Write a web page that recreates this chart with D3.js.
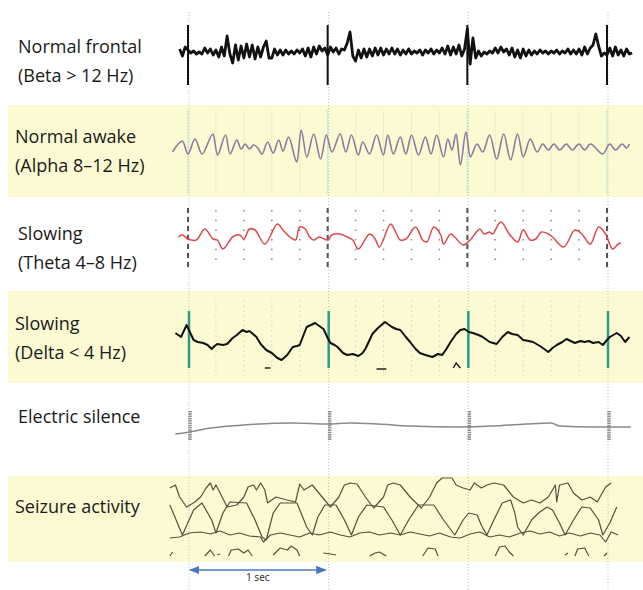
<!DOCTYPE html>
<html>
<head>
<meta charset="utf-8">
<script src="https://cdn.jsdelivr.net/npm/d3@7"></script>
<style>
  body { margin: 0; background: #fff; }
  svg { display: block; }
  .label { font-family: "Open Sans", sans-serif; font-size: 18px; fill: #1a1a1a; }
</style>
</head>
<body>
<div id="chart"></div>
<script>
// Chart values (time in seconds, value = deflection)
var secondMarks = [0, 1, 2, 3];
var minorTicks = [0.2, 0.4, 0.6, 0.8, 1.2, 1.4, 1.6, 1.8, 2.2, 2.4, 2.6, 2.8];

var rowLabels = [
  ["Normal frontal", "(Beta > 12 Hz)"],
  ["Normal awake", "(Alpha 8–12 Hz)"],
  ["Slowing", "(Theta 4–8 Hz)"],
  ["Slowing", "(Delta < 4 Hz)"],
  ["Electric silence"],
  ["Seizure activity"]
];

// beta: one value every 0.02 s starting at -0.06 s
var betaStart = -0.06, betaStep = 0.02;
var betaValues = [
  3, -4, 5,
  2, -1, 1, -2, 0, -2, 4, -1, 3, -3,
  2, -5, 5, -4, 16, -2, -11, 7, -8, 6,
  -6, 8, -5, 7, -7, 5, -5, 5, 11, -6,
  -6, 3, -3, 2, -3, 2, -2, 1, -2, 2,
  -1, 3, -4, 4, -5, 5, -2, 6, 1, 4,
  -3, 5, 0, 4, -2, 3, 2, 9, 20, -4,
  -9, 2, -6, 3, -5, 3, -4, 4, -3, 4,
  -3, 3, -2, 4, -2, 3, -3, 2, -2, 3,
  -2, 1, -1, 2, -3, 2, -1, 3, -2, 2,
  -1, 4, -2, 6, -3, 5, -2, 7, -4, 3,
  23, -12, 14, -6, 1, -4, 0, -2, 1, -1,
  4, -1, 5, 0, 3, -3, 4, -5, 2, -6,
  3, -4, 2, -3, 1, -2, 2, -1, 1, -2,
  1, -1, 2, -2, 1, -1, 3, -2, 2, -2,
  3, -3, 5, -2, 4, 7, 18, 6, -4, -1,
  -3, 4, -4, 5, -3, 2, -4, 3, -2, -1
];

var alphaPoints = [
  [-0.11, -5], [-0.04, 6], [0.0, -7], [0.05, 8], [0.10, -7], [0.18, 13], [0.21, -8],
  [0.27, 12], [0.30, -7], [0.35, 7], [0.38, -2], [0.41, 3], [0.44, -2], [0.47, 2],
  [0.50, -1], [0.53, -7], [0.57, 5], [0.61, -6], [0.65, 7], [0.68, -4], [0.72, 10],
  [0.78, -15], [0.81, 17], [0.85, -10], [0.90, 13], [0.95, -12], [0.99, 12], [1.03, -5],
  [1.09, 13], [1.13, -5], [1.17, 12], [1.22, -8], [1.25, 5], [1.30, -7], [1.35, 12],
  [1.40, -8], [1.43, 12], [1.47, -7], [1.52, 10], [1.56, -7], [1.60, 12], [1.65, -8],
  [1.70, 10], [1.74, -7], [1.78, 12], [1.83, -10], [1.86, 8], [1.89, -3], [1.92, 13],
  [1.95, -18], [1.99, 15], [2.02, -10], [2.07, 3], [2.11, -5], [2.16, 12], [2.21, -12],
  [2.26, 13], [2.31, -13], [2.36, 13], [2.40, -10], [2.45, 8], [2.50, -5], [2.54, 3],
  [2.58, -3], [2.62, 3], [2.66, -3], [2.71, 3], [2.75, -3], [2.80, 3], [2.84, -3],
  [2.88, 3], [2.97, -7], [3.02, 3], [3.06, -3], [3.11, 3], [3.14, -1], [3.16, 3]
];

var thetaPoints = [
  [-0.07, 0], [-0.04, 2], [0.0, -2], [0.06, -3], [0.12, 8], [0.18, -2], [0.21, -3],
  [0.25, -12], [0.32, 0], [0.37, 2], [0.40, -2], [0.44, 8], [0.48, 7], [0.55, -7],
  [0.64, 13], [0.68, 7], [0.73, 0], [0.77, -3], [0.80, 10], [0.84, 8], [0.87, 0],
  [0.90, -3], [0.94, 0], [1.0, -3], [1.03, 2], [1.09, 3], [1.14, 0], [1.18, -3],
  [1.22, -12], [1.30, 3], [1.34, -2], [1.37, -10], [1.45, 13], [1.48, 7], [1.52, -3],
  [1.56, -2], [1.63, 10], [1.68, -3], [1.71, -5], [1.76, 10], [1.81, 2], [1.83, -7],
  [1.88, 3], [1.91, 0], [1.97, -8], [2.02, -3], [2.09, 8], [2.12, 3], [2.16, 5],
  [2.18, 3], [2.24, 15], [2.30, 3], [2.36, -5], [2.40, 7], [2.45, -3], [2.49, -2],
  [2.53, 5], [2.58, 3], [2.61, 0], [2.69, -10], [2.77, 7], [2.82, 3], [2.88, -7],
  [2.94, 10], [2.99, 3], [3.04, -12], [3.08, -7], [3.10, -6]
];

var deltaPoints = [
  [-0.09, 7], [-0.07, 5], [-0.05, 3], [-0.01, 15], [0.02, 6], [0.04, 0], [0.07, -2],
  [0.11, -3], [0.14, -5], [0.17, -9], [0.19, -6], [0.21, -4], [0.25, -5], [0.28, -4],
  [0.32, 2], [0.35, 5], [0.39, 10], [0.42, 8], [0.44, 9], [0.49, 3], [0.52, -4],
  [0.56, -10], [0.60, -13], [0.64, -18], [0.67, -20], [0.71, -15], [0.75, -7],
  [0.78, -6], [0.80, -5], [0.83, 6], [0.85, 13], [0.88, 15], [0.91, 17], [0.94, 14],
  [0.97, 11], [1.00, 2], [1.02, -3], [1.05, -5], [1.07, -7], [1.11, -13], [1.14, -15],
  [1.18, -14], [1.22, -16], [1.25, -13], [1.27, -9], [1.30, 0], [1.32, 6], [1.36, 12],
  [1.41, 18], [1.44, 15], [1.46, 13], [1.49, 11], [1.52, 10], [1.56, 3], [1.59, -2],
  [1.63, -9], [1.66, -13], [1.70, -15], [1.75, -17], [1.79, -14], [1.82, -15],
  [1.85, -9], [1.88, -2], [1.92, 6], [1.95, 10], [1.98, 11], [2.01, 8], [2.04, 7],
  [2.08, 5], [2.11, 3], [2.14, 0], [2.16, -2], [2.21, -4], [2.25, 3], [2.29, 8],
  [2.32, 6], [2.36, 5], [2.40, 0], [2.44, -1], [2.47, -2], [2.52, -6], [2.58, -12],
  [2.61, -8], [2.64, -5], [2.68, -2], [2.71, 1], [2.74, -1], [2.77, -3], [2.81, -1],
  [2.84, -2], [2.87, -1], [2.90, -3], [2.94, -2], [2.97, -5], [3.00, 0], [3.02, 3],
  [3.07, 7], [3.10, 4], [3.13, -2], [3.16, 3]
];
var deltaBits = [
  [[0.55, -28], [0.59, -28]],
  [[1.35, -29], [1.42, -29]],
  [[1.90, -28], [1.92, -23], [1.95, -28]]
];

var silencePoints = [
  [-0.09, -8], [0.01, -6], [0.16, -2], [0.4, 1], [0.75, 3], [1.0, 2], [1.16, 3],
  [1.36, 2], [1.59, 0], [1.95, -1], [2.18, 0], [2.42, 2], [2.6, 3], [2.66, 0],
  [2.9, -1], [3.17, -1]
];

var seizureA = [
  [-0.13, 30], [-0.04, 0], [0.04, 25], [0.10, 32], [0.17, 15], [0.20, 2], [0.25, 22],
  [0.30, 33], [0.42, 32], [0.48, 15], [0.53, -2], [0.56, -5], [0.61, 22], [0.66, 32],
  [0.78, 32], [0.85, 8], [0.89, 0], [0.93, 18], [0.98, 30], [1.06, 30], [1.12, 15],
  [1.17, 0], [1.22, 18], [1.28, 30], [1.40, 28], [1.46, 15], [1.52, 0], [1.58, 15],
  [1.65, 30], [1.76, 30], [1.83, 15], [1.91, 0], [1.97, 15], [2.01, 22], [2.07, 20],
  [2.10, 10], [2.14, 0], [2.20, 18], [2.25, 32], [2.31, 35], [2.34, 22], [2.36, 8],
  [2.40, 0], [2.46, 15], [2.51, 22], [2.57, 28], [2.61, 25], [2.66, 12], [2.70, 0],
  [2.76, 15], [2.82, 28], [2.88, 27], [2.94, 15], [2.97, 0], [3.02, 12], [3.07, 28]
];
var seizureB = [
  [-0.13, 47], [-0.09, 50], [-0.06, 38], [-0.01, 28], [0.05, 33], [0.09, 38], [0.13, 47],
  [0.16, 52], [0.18, 45], [0.20, 50], [0.23, 42], [0.28, 28], [0.35, 30], [0.40, 38],
  [0.43, 48], [0.47, 50], [0.49, 45], [0.52, 52], [0.55, 45], [0.57, 32], [0.63, 38],
  [0.71, 35], [0.77, 33], [0.80, 51], [0.83, 45], [0.89, 50], [0.96, 38], [1.02, 28],
  [1.08, 38], [1.12, 50], [1.16, 52], [1.21, 51], [1.27, 38], [1.33, 27], [1.40, 38],
  [1.43, 50], [1.47, 52], [1.52, 50], [1.59, 38], [1.67, 27], [1.73, 38], [1.78, 52],
  [1.82, 57], [1.89, 57], [1.92, 50], [1.97, 47], [2.02, 45], [2.05, 52], [2.10, 47],
  [2.14, 50], [2.19, 52], [2.26, 50], [2.33, 38], [2.40, 32], [2.46, 35], [2.52, 32],
  [2.58, 38], [2.63, 50], [2.64, 33], [2.66, 50], [2.72, 52], [2.76, 42], [2.82, 35],
  [2.88, 38], [2.93, 33], [2.99, 48], [3.03, 52]
];
var seizureC = [
  [-0.13, -3], [-0.06, -2], [0.01, 2], [0.09, 3], [0.16, 1], [0.23, 4], [0.30, 0],
  [0.37, 2], [0.44, -1], [0.52, -2], [0.54, -7], [0.59, 0], [0.66, 2], [0.73, 0],
  [0.80, -2], [0.87, 2], [0.94, 0], [1.02, 3], [1.09, 0], [1.16, -2], [1.23, 2],
  [1.30, 3], [1.37, 0], [1.45, 2], [1.52, 0], [1.59, 3], [1.66, 1], [1.73, -1],
  [1.80, 2], [1.88, -2], [1.95, -3], [2.02, 1], [2.09, 3], [2.16, -2], [2.23, 0],
  [2.30, -2], [2.38, 2], [2.45, 4], [2.52, 1], [2.59, 3], [2.66, -1], [2.73, 2],
  [2.81, -1], [2.88, 2], [2.95, 0], [2.99, -7], [3.03, 3], [3.08, 0]
];
var seizureBits = [
  [[-0.13, -21], [-0.11, -17]],
  [[0.12, -21], [0.16, -15], [0.19, -21]],
  [[0.21, -20], [0.23, -19]],
  [[0.29, -21], [0.31, -15], [0.36, -14], [0.40, -18], [0.43, -15], [0.46, -21]],
  [[0.61, -20], [0.66, -13], [0.71, -15], [0.74, -11], [0.78, -15], [0.80, -21]],
  [[0.97, -18], [1.02, -19], [1.06, -20]],
  [[1.30, -21], [1.34, -18], [1.37, -17], [1.42, -21]],
  [[1.68, -21], [1.72, -13], [1.77, -14], [1.79, -21]],
  [[2.20, -21], [2.23, -12], [2.27, -11], [2.30, -17], [2.33, -21]],
  [[2.70, -20], [2.72, -18]],
  [[2.77, -21], [2.79, -14], [2.84, -13], [2.87, -21]],
  [[2.98, -21], [3.00, -18]]
];

var width = 643, height = 590;

var svg = d3.select("#chart").append("svg")
  .attr("width", width)
  .attr("height", height);

var defs = svg.append("defs");
defs.append("marker")
  .attr("id", "arrow")
  .attr("viewBox", "0 0 10 10")
  .attr("refX", 9).attr("refY", 5)
  .attr("markerWidth", 7).attr("markerHeight", 7)
  .attr("orient", "auto-start-reverse")
  .append("path")
  .attr("d", "M0,1 L10,5 L0,9 z")
  .attr("fill", "#4a78c0");

// time scale shared by every trace
var x = d3.scaleLinear().domain([0, 3]).range([188, 607]);

// each row gets its own deflection scale around a baseline
function rowScale(base) {
  return d3.scaleLinear().domain([-30, 30]).range([base + 30, base - 30]);
}

// yellow bands
var bands = [[105, 197], [291, 383], [476, 562]];
svg.selectAll("rect.band")
  .data(bands)
  .enter().append("rect")
  .attr("class", "band")
  .attr("x", 8).attr("width", width - 8)
  .attr("y", d => d[0]).attr("height", d => d[1] - d[0])
  .attr("fill", "#fbfad2");

// faint minor grid in the alpha band
svg.selectAll("line.alphaMinor")
  .data(minorTicks)
  .enter().append("line")
  .attr("x1", d => x(d)).attr("x2", d => x(d))
  .attr("y1", 110).attr("y2", 194)
  .attr("stroke", "#eaeecb").attr("stroke-width", 1);
svg.selectAll("line.alphaMajor")
  .data(secondMarks)
  .enter().append("line")
  .attr("x1", d => x(d)).attr("x2", d => x(d))
  .attr("y1", 110).attr("y2", 194)
  .attr("stroke", "#c8e4d2").attr("stroke-width", 1);

// dotted minor grid in the delta band
svg.selectAll("line.deltaMinor")
  .data(minorTicks)
  .enter().append("line")
  .attr("x1", d => x(d)).attr("x2", d => x(d))
  .attr("y1", 300).attr("y2", 376)
  .attr("stroke", "#dcdcc6").attr("stroke-dasharray", "2,3");

// theta dotted minor grid
svg.selectAll("line.thetaMinor")
  .data(minorTicks)
  .enter().append("line")
  .attr("x1", d => x(d)).attr("x2", d => x(d))
  .attr("y1", 210).attr("y2", 262)
  .attr("stroke", "#888").attr("stroke-width", 1.5)
  .attr("stroke-dasharray", "1.5,8.2");

// dotted second lines down the whole figure
svg.selectAll("line.second")
  .data(secondMarks)
  .enter().append("line")
  .attr("x1", d => x(d) + 1).attr("x2", d => x(d) + 1)
  .attr("y1", 12).attr("y2", height)
  .attr("stroke", "#bdbdbd").attr("stroke-dasharray", "1,2");

// row labels
var labelPos = [[18, 53], [15, 143], [18, 240], [15, 330], [18, 423], [15, 513]];
var labels = svg.selectAll("text.label")
  .data(rowLabels)
  .enter().append("text")
  .attr("class", "label")
  .attr("x", (d, i) => labelPos[i][0])
  .attr("y", (d, i) => labelPos[i][1]);
labels.selectAll("tspan")
  .data(d => d)
  .enter().append("tspan")
  .attr("x", function() { return d3.select(this.parentNode).attr("x"); })
  .attr("dy", (d, i) => i === 0 ? 0 : 29)
  .text(d => d);

// --- Beta row
var yBeta = rowScale(52);
svg.selectAll("line.betaMark")
  .data(secondMarks)
  .enter().append("line")
  .attr("x1", d => x(d)).attr("x2", d => x(d))
  .attr("y1", 25).attr("y2", 85)
  .attr("stroke", "#111").attr("stroke-width", 2);
svg.append("path")
  .datum(betaValues)
  .attr("fill", "none")
  .attr("stroke", "#111")
  .attr("stroke-width", 2.8)
  .attr("stroke-linejoin", "round")
  .attr("d", d3.line()
    .x((d, i) => x(betaStart + i * betaStep))
    .y(d => yBeta(d)));

// --- Alpha row
var yAlpha = rowScale(147);
svg.append("path")
  .datum(alphaPoints)
  .attr("fill", "none")
  .attr("stroke", "#8c7c9c")
  .attr("stroke-width", 1.6)
  .attr("d", d3.line().curve(d3.curveMonotoneX)
    .x(d => x(d[0])).y(d => yAlpha(d[1])));

// --- Theta row
var yTheta = rowScale(237);
svg.selectAll("line.thetaMark")
  .data(secondMarks)
  .enter().append("line")
  .attr("x1", d => x(d)).attr("x2", d => x(d))
  .attr("y1", 208).attr("y2", 267)
  .attr("stroke", "#555").attr("stroke-width", 2)
  .attr("stroke-dasharray", "5,4");
svg.append("path")
  .datum(thetaPoints)
  .attr("fill", "none")
  .attr("stroke", "#dc4a4a")
  .attr("stroke-width", 1.5)
  .attr("d", d3.line().curve(d3.curveCatmullRom)
    .x(d => x(d[0])).y(d => yTheta(d[1])));

// --- Delta row
var yDelta = rowScale(340);
svg.selectAll("line.deltaMark")
  .data(secondMarks)
  .enter().append("line")
  .attr("x1", d => x(d) + 1).attr("x2", d => x(d) + 1)
  .attr("y1", 311).attr("y2", 368)
  .attr("stroke", "#2f9a8a").attr("stroke-width", 2.5);
svg.append("path")
  .datum(deltaPoints)
  .attr("fill", "none")
  .attr("stroke", "#111")
  .attr("stroke-width", 2)
  .attr("stroke-linejoin", "round")
  .attr("d", d3.line().x(d => x(d[0])).y(d => yDelta(d[1])));
svg.selectAll("path.deltaBit")
  .data(deltaBits)
  .enter().append("path")
  .attr("fill", "none")
  .attr("stroke", "#222")
  .attr("stroke-width", 1.5)
  .attr("d", d3.line().x(d => x(d[0])).y(d => yDelta(d[1])));

// --- Electric silence row
var ySilence = rowScale(426);
svg.selectAll("line.silenceMark")
  .data(secondMarks)
  .enter().append("line")
  .attr("x1", d => x(d) + 2).attr("x2", d => x(d) + 2)
  .attr("y1", 411).attr("y2", 440)
  .attr("stroke", "#8e8e8e").attr("stroke-width", 3.5)
  .attr("stroke-dasharray", "1.5,0.8");
svg.append("path")
  .datum(silencePoints)
  .attr("fill", "none")
  .attr("stroke", "#8a8a8a")
  .attr("stroke-width", 1.5)
  .attr("d", d3.line().curve(d3.curveMonotoneX)
    .x(d => x(d[0])).y(d => ySilence(d[1])));

// --- Seizure row
var ySeizure = rowScale(535);
var seizureLine = d3.line().x(d => x(d[0])).y(d => ySeizure(d[1]));
var seizureG = svg.append("g");
seizureG.selectAll("path.trace")
  .data([seizureA, seizureB, seizureC].concat(seizureBits))
  .enter().append("path")
  .attr("fill", "none")
  .attr("stroke", "#5a4e3e")
  .attr("stroke-width", 1.2)
  .attr("stroke-linejoin", "round")
  .attr("d", seizureLine);

// 1 sec scale arrow
svg.append("line")
  .attr("x1", x(0) + 2).attr("x2", x(1) - 2)
  .attr("y1", 570).attr("y2", 570)
  .attr("stroke", "#4a78c0").attr("stroke-width", 1.5)
  .attr("marker-start", "url(#arrow)")
  .attr("marker-end", "url(#arrow)");
svg.append("text")
  .attr("x", x(0.5)).attr("y", 581)
  .attr("text-anchor", "middle")
  .style("font-family", "Noto Sans, sans-serif")
  .style("font-size", "10px")
  .style("fill", "#333")
  .text("1 sec");
</script>
</body>
</html>
